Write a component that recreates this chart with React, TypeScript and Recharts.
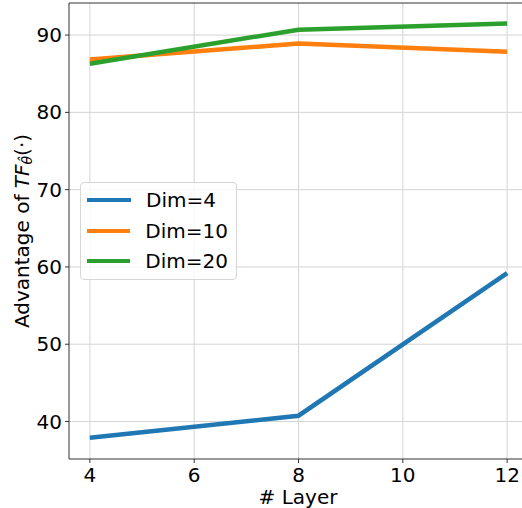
import React from 'react';
import { LineChart, Line, XAxis, YAxis, CartesianGrid, ReferenceLine, Label } from 'recharts';

// values
const layers = [4, 8, 12];
const dim4 = [37.9, 40.75, 59.2];
const dim10 = [86.85, 88.9, 87.85];
const dim20 = [86.3, 90.7, 91.5];
const xTicks = [4, 6, 8, 10, 12];
const yTicks = [40, 50, 60, 70, 80, 90];

const series = [
    { key: 'dim4', name: 'Dim=4', color: '#1f77b4' },
    { key: 'dim10', name: 'Dim=10', color: '#ff7f0e' },
    { key: 'dim20', name: 'Dim=20', color: '#2ca02c' },
];

const data = layers.map((layer, i) => ({
    layer,
    dim4: dim4[i],
    dim10: dim10[i],
    dim20: dim20[i],
}));

const FONT = 'DejaVu Sans, sans-serif';
const X_DOMAIN: [number, number] = [3.6, 12.4];
const Y_DOMAIN: [number, number] = [35.15, 94.15];

const YLabel = ({ viewBox }: any) => {
    const cx = viewBox.x + 22;
    const cy = viewBox.y + viewBox.height / 2;
    return (
        <text
            x={cx}
            y={cy}
            transform={`rotate(-90, ${cx}, ${cy})`}
            textAnchor="middle"
            dominantBaseline="central"
            fontFamily={FONT}
            fontSize={20}
            fill="#000"
        >
            Advantage of <tspan fontStyle="italic">TF</tspan>
            <tspan fontStyle="italic" fontSize={14} dy={5}>θ̂</tspan>
            <tspan dy={-5}>(·)</tspan>
        </text>
    );
};

// x label centred under the plot, baseline near the bottom edge
const XLabel = ({ viewBox }: any) => (
    <text
        x={viewBox.x + 298 - 69}
        y={viewBox.y + 45}
        textAnchor="middle"
        fontFamily={FONT}
        fontSize={20}
        fill="#000"
    >
        # Layer
    </text>
);

const LegendBox = () => (
    <div
        style={{
            position: 'absolute',
            left: 80,
            top: 182,
            width: 157,
            boxSizing: 'border-box',
            border: '1px solid #d6d6d6',
            borderRadius: 4,
            background: 'rgba(255,255,255,0.8)',
            padding: '2px 8px 2px 6px',
            fontFamily: FONT,
            fontSize: 20,
            color: '#000',
        }}
    >
        {series.map((s) => (
            <div key={s.key} style={{ display: 'flex', alignItems: 'center', height: 30.5 }}>
                <div style={{ width: 44, height: 4, background: s.color, marginRight: 15 }} />
                <span>{s.name}</span>
            </div>
        ))}
    </div>
);

export default function App() {
    return (
        <div style={{ position: 'absolute', left: 0, top: 0, width: 522, height: 508, overflow: 'hidden', background: '#fff' }}>
            <LineChart width={528} height={508} data={data} margin={{ top: 3, right: 0, left: 0, bottom: 0 }}>
                <CartesianGrid stroke="#d4d4d4" strokeWidth={1} horizontalValues={yTicks} verticalValues={xTicks} />
                <XAxis
                    dataKey="layer"
                    type="number"
                    domain={X_DOMAIN}
                    ticks={xTicks}
                    allowDataOverflow
                    height={49}
                    stroke="#333"
                    tickSize={4}
                    tickMargin={5}
                    tick={{ fill: '#000', fontSize: 20, fontFamily: FONT }}
                >
                    <Label content={<XLabel />} />
                </XAxis>
                <YAxis
                    type="number"
                    domain={Y_DOMAIN}
                    ticks={yTicks}
                    allowDataOverflow
                    width={69}
                    stroke="#333"
                    tickSize={4}
                    tickMargin={3}
                    tick={{ fill: '#000', fontSize: 20, fontFamily: FONT }}
                >
                    <Label content={<YLabel />} />
                </YAxis>
                <ReferenceLine y={Y_DOMAIN[1]} stroke="#333" strokeWidth={1} />
                {series.map((s) => (
                    <Line
                        key={s.key}
                        dataKey={s.key}
                        name={s.name}
                        stroke={s.color}
                        strokeWidth={4.5}
                        dot={false}
                        isAnimationActive={false}
                    />
                ))}
            </LineChart>
            <LegendBox />
        </div>
    );
}
